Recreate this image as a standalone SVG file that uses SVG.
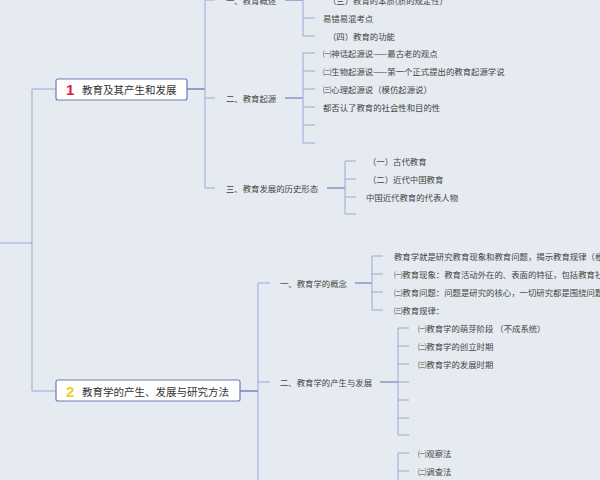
<svg xmlns="http://www.w3.org/2000/svg" width="600" height="480" viewBox="0 0 600 480">
<style>
.t{font-family:"Noto Sans CJK SC","Liberation Sans",sans-serif;font-size:8.4px;fill:#444;dominant-baseline:central}
.m{font-family:"Noto Sans CJK SC","Liberation Sans",sans-serif;font-size:10.5px;fill:#333;dominant-baseline:central}
.c{fill:none;stroke:#9aa8d6;stroke-width:1}
.d{fill:none;stroke:#5a6cb4;stroke-width:1.2}
.box{fill:#fff;stroke:#6a7bbf;stroke-width:1.2}
</style>
<rect width="600" height="480" fill="#e5ebf0"/>
<g id="connectors">
<path class="c" d="M0 243H32M32 89V391M32 89H56M32 391H56"/>
<path class="d" d="M187 89H205"/>
<path class="c" d="M205 -5V188M205 0H215M205 98H215M205 188H215"/>
<path class="d" d="M285 0H303M285 98H303M327 188H345"/>
<path class="c" d="M303 -5V36M303 18H315M303 36H315"/>
<path class="c" d="M303 53V143M303 53H315M303 71H315M303 89H315M303 107H315M303 125H315M303 143H315"/>
<path class="c" d="M345 161V214M345 161H356M345 179H356M345 197H356M345 214H356"/>
<path class="d" d="M240 391H258"/>
<path class="c" d="M258 283V480M258 283H270M258 382H270"/>
<path class="d" d="M355 283H372M380 382H398"/>
<path class="c" d="M372 256V310M372 256H383M372 274H383M372 292H383M372 310H383"/>
<path class="c" d="M398 328V435M398 328H409M398 346H409M398 364H409M398 382H409M398 400H409M398 418H409M398 435H409"/>
<path class="c" d="M398 453V480M398 453H409M398 471H409"/>
</g>
<g id="n1"><rect class="box" x="56" y="79" width="131" height="21" rx="2"/><text x="66" y="89.5" font-family="Liberation Sans,sans-serif" font-size="15" font-weight="bold" fill="#e0203a" dominant-baseline="central">1</text><text class="m" x="82" y="89.5">教育及其产生和发展</text></g>
<g id="n2"><rect class="box" x="56" y="380" width="184" height="21" rx="2"/><text x="66" y="391" font-family="Liberation Sans,sans-serif" font-size="15" font-weight="bold" fill="#f2cb2c" dominant-baseline="central">2</text><text class="m" x="82" y="391">教育学的产生、发展与研究方法</text></g>
<g id="n1a"><text class="t" x="226" y="0">一、教育概述</text></g>
<g id="n1a3"><text class="t" x="328" y="0">（三）教育的本质(质的规定性)</text></g>
<g id="n1a4"><text class="t" x="323" y="18">易错易混考点</text></g>
<g id="n1a5"><text class="t" x="328" y="36">（四）教育的功能</text></g>
<g id="n1b"><text class="t" x="226" y="98">二、教育起源</text></g>
<g id="n1b1"><text class="t" x="323" y="53">㈠神话起源说——最古老的观点</text></g>
<g id="n1b2"><text class="t" x="323" y="71">㈡生物起源说——第一个正式提出的教育起源学说</text></g>
<g id="n1b3"><text class="t" x="323" y="89">㈢心理起源说（模仿起源说）</text></g>
<g id="n1b4"><text class="t" x="323" y="107">都否认了教育的社会性和目的性</text></g>
<g id="n1c"><text class="t" x="226" y="188">三、教育发展的历史形态</text></g>
<g id="n1c1"><text class="t" x="368" y="161">（一）古代教育</text></g>
<g id="n1c2"><text class="t" x="368" y="179">（二）近代中国教育</text></g>
<g id="n1c3"><text class="t" x="366" y="197">中国近代教育的代表人物</text></g>
<g id="n2a"><text class="t" x="280" y="283">一、教育学的概念</text></g>
<g id="n2a1"><text class="t" x="394" y="256">教育学就是研究教育现象和教育问题，揭示教育规律（根</text></g>
<g id="n2a2"><text class="t" x="394" y="274">㈠教育现象：教育活动外在的、表面的特征，包括教育社</text></g>
<g id="n2a3"><text class="t" x="394" y="292">㈡教育问题：问题是研究的核心，一切研究都是围绕问题</text></g>
<g id="n2a4"><text class="t" x="394" y="310">㈢教育规律：</text></g>
<g id="n2b"><text class="t" x="280" y="382">二、教育学的产生与发展</text></g>
<g id="n2b1"><text class="t" x="418" y="328">㈠教育学的萌芽阶段 （不成系统）</text></g>
<g id="n2b2"><text class="t" x="418" y="346">㈡教育学的创立时期</text></g>
<g id="n2b3"><text class="t" x="418" y="364">㈢教育学的发展时期</text></g>
<g id="n2c1"><text class="t" x="418" y="453">㈠观察法</text></g>
<g id="n2c2"><text class="t" x="418" y="471">㈡调查法</text></g>
</svg>
